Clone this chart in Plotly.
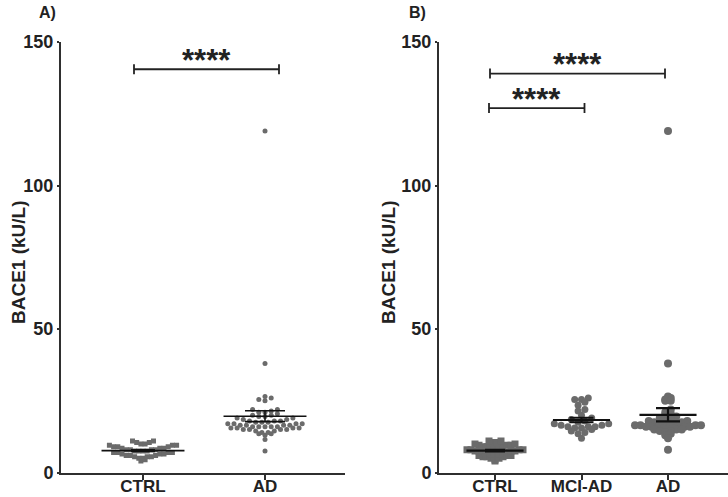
import math
import numpy as np
import plotly.graph_objects as go

# ---------------- data ----------------
cats_a = ["CTRL", "AD"]
cats_b = ["CTRL", "MCI-AD", "AD"]

ctrl = [4.0, 4.5, 5.0, 5.0, 5.5, 5.5, 5.5, 6.0, 6.0, 6.0, 6.5, 6.5, 6.5, 7.0, 7.0,
        7.0, 7.0, 7.5, 7.5, 7.5, 7.5, 8.0, 8.0, 8.0, 8.0, 8.5, 8.5, 8.5, 9.0, 9.0,
        9.0, 9.5, 9.5, 9.5, 10.0, 10.0, 10.5, 10.5, 11.0, 11.0]

ad_all = [119.0, 38.0, 26.5, 26.0, 25.5, 25.0, 22.0, 22.0,
          21.5, 21.0, 21.0, 20.5, 20.0, 20.0, 19.5, 19.5, 19.0, 19.0, 18.5, 18.5,
          18.0, 18.0, 18.0, 17.5, 17.5, 17.5, 17.0, 17.0, 17.0, 17.0, 16.5, 16.5,
          16.5, 16.5, 16.0, 16.0, 16.0, 16.0, 16.0, 15.5, 15.5, 15.5, 15.5, 15.0,
          15.0, 15.0, 15.0, 14.5, 14.5, 14.0, 14.0, 13.5, 13.5, 13.0, 11.5, 7.5]

mci_ad = [26.0, 25.5, 25.5, 24.5, 23.5, 22.0, 21.5, 20.0, 19.0, 18.5, 18.0,
          17.5, 17.0, 17.0, 16.5, 16.5, 16.0, 16.0, 16.0, 15.5, 15.5, 15.0,
          14.5, 14.0, 13.5, 12.0]

ad = [119.0, 38.0, 25.0, 26.5, 26.0, 25.5, 25.0, 22.0,
      21.0, 20.5, 20.0, 19.5, 19.0, 18.5, 18.5, 18.0, 18.0, 17.5, 17.5,
      17.5, 17.0, 17.0, 17.0, 16.5, 16.5, 16.5, 16.5, 16.0, 16.0, 16.0, 16.0,
      16.0, 15.5, 15.5, 15.5, 15.5, 15.0, 15.0, 15.0, 14.5, 14.5, 14.0, 13.5,
      13.0, 12.0, 8.0]

sig_a = [(0, 1, 140.5)]
sig_b = [(0, 2, 139.0), (0, 1, 127.0)]

# ---------------- geometry (pixel frame of the window) ----------------
W, H = 728, 497


def fx(px):   # pixel x -> paper fraction
    return px / W


def fy(py):   # pixel y -> paper fraction
    return 1 - py / H


Y0_PX, Y150_PX = 472.6, 42.0
PX_PER_UNIT_Y = (Y0_PX - Y150_PX) / 150.0

A_LEFT, A_RIGHT = 61, 345
B_LEFT, B_RIGHT = 439, 728
A_PPU_X = 122.0
B_PPU_X = 86.5
A_RANGE = [-(143 - A_LEFT) / A_PPU_X, -(143 - A_LEFT) / A_PPU_X + (A_RIGHT - A_LEFT) / A_PPU_X]
B_RANGE = [-(495 - B_LEFT) / B_PPU_X, -(495 - B_LEFT) / B_PPU_X + (B_RIGHT - B_LEFT) / B_PPU_X]

GRAY = "#6b6b6b"
AXC = "#2f2f2f"
TXT = "#222222"
FONT = "Liberation Sans, Arial, sans-serif"


def rows_layout(vals, rowh, dx):
    """Prism-like row binning: offsets (px) of points within value rows."""
    rows = {}
    for i, v in enumerate(vals):
        r = int(math.floor(v * PX_PER_UNIT_Y / rowh))
        rows.setdefault(r, []).append(i)
    offs = [0.0] * len(vals)
    for r, idx in rows.items():
        idx = sorted(idx, key=lambda i: vals[i])
        n = len(idx)
        pos = sorted([(k - (n - 1) / 2.0) * dx for k in range(n)], key=lambda p: (abs(p), p))
        for j, i in enumerate(idx):
            offs[i] = pos[j]
    return offs


def sem(v):
    a = np.array(v)
    return a.std(ddof=1) / math.sqrt(len(a))


fig = go.Figure()


def add_group(vals, pos, xa, ya, ppu, rowh, dx, size, symbol, meanw, capw, lw):
    offs = rows_layout(vals, rowh, dx)
    xs = [pos + o / ppu for o in offs]
    fig.add_trace(go.Scatter(x=xs, y=vals, mode="markers", xaxis=xa, yaxis=ya,
                             marker=dict(color=GRAY, size=size, symbol=symbol,
                                         line=dict(width=0)),
                             showlegend=False, hoverinfo="y"))
    m = float(np.mean(vals))
    fig.add_trace(go.Scatter(x=[pos - meanw, pos + meanw], y=[m, m], mode="lines",
                             xaxis=xa, yaxis=ya, line=dict(color="#111", width=lw),
                             showlegend=False, hoverinfo="skip"))
    fig.add_trace(go.Scatter(x=[pos], y=[m], mode="markers", xaxis=xa, yaxis=ya,
                             marker=dict(size=1, color="rgba(0,0,0,0)"),
                             error_y=dict(type="constant", value=sem(vals),
                                          color="#111", thickness=lw, width=capw),
                             showlegend=False, hoverinfo="skip"))


# panel A
add_group(ctrl, 0, "x", "y", A_PPU_X, 7.0, 4.2, 5, "square", 0.34, 12, 1.6)
add_group(ad_all, 1, "x", "y", A_PPU_X, 5.0, 6.2, 5, "circle", 0.34, 20, 1.6)
# panel B
add_group(ctrl, 0, "x2", "y2", B_PPU_X, 6.0, 4.0, 7, "square", 0.33, 10, 2.2)
add_group(mci_ad, 1, "x2", "y2", B_PPU_X, 5.5, 6.8, 7, "circle", 0.33, 12, 2.2)
add_group(ad, 2, "x2", "y2", B_PPU_X, 4.0, 5.5, 8, "circle", 0.33, 12, 2.2)

# significance bars
shapes = []
annotations = []
sig_offsets_a = {(0, 1): (-9, 14)}
sig_offsets_b = {(0, 2): (-5, -3), (0, 1): (-6, 3)}


def add_sig(pairs, xref, yref, ppu, offmap):
    cap = 5 / PX_PER_UNIT_Y
    for (a, b, y) in pairs:
        o0, o1 = offmap[(a, b)]
        x0 = a + o0 / ppu
        x1 = b + o1 / ppu
        for seg in [(x0, y, x1, y), (x0, y - cap, x0, y + cap), (x1, y - cap, x1, y + cap)]:
            shapes.append(dict(type="line", xref=xref, yref=yref, x0=seg[0], y0=seg[1],
                               x1=seg[2], y1=seg[3], line=dict(color=TXT, width=1.8)))
        annotations.append(dict(x=(x0 + x1) / 2, y=y + 3.0, xref=xref, yref=yref,
                                text="****", showarrow=False, yanchor="middle",
                                font=dict(family=FONT, size=31, color=TXT, weight="bold")))


add_sig(sig_a, "x", "y", A_PPU_X, sig_offsets_a)
add_sig(sig_b, "x2", "y2", B_PPU_X, sig_offsets_b)

for txt, xp in [("A)", 47), ("B)", 418)]:
    annotations.append(dict(x=fx(xp), y=fy(12), xref="paper", yref="paper", text=txt,
                            showarrow=False, xanchor="center", yanchor="middle",
                            font=dict(family=FONT, size=16, color=TXT, weight="bold")))

for xp in [18, 388]:
    annotations.append(dict(x=fx(xp), y=fy(262), xref="paper", yref="paper",
                            text="BACE1 (kU/L)", textangle=-90, showarrow=False,
                            xanchor="center", yanchor="middle",
                            font=dict(family=FONT, size=19, color=TXT, weight="bold")))

ydom = [fy(Y0_PX), fy(Y150_PX)]
axis_common = dict(showline=True, linewidth=2, linecolor=AXC, showgrid=False, zeroline=False,
                   automargin=False,
                   ticks="outside", tickcolor=AXC, ticklen=5, tickwidth=1.5,
                   tickfont=dict(family=FONT, size=18, color=TXT, weight="bold"))
yax = dict(axis_common, range=[0, 150], tickvals=[0, 50, 100, 150], domain=ydom,
           ticklen=2)
xfont = dict(family=FONT, size=17, color=TXT, weight="bold")

fig.update_layout(
    width=W, height=H, margin=dict(l=0, r=0, t=0, b=0),
    paper_bgcolor="white", plot_bgcolor="white",
    xaxis=dict(axis_common, domain=[fx(A_LEFT), fx(A_RIGHT)], range=A_RANGE,
               tickvals=[0, 1], ticktext=cats_a, anchor="y", ticklabelstandoff=-8,
               tickfont=xfont),
    yaxis=dict(yax, anchor="x"),
    xaxis2=dict(axis_common, domain=[fx(B_LEFT), fx(B_RIGHT)], range=B_RANGE,
                tickvals=[0, 1, 2], ticktext=cats_b, anchor="y2", ticklabelstandoff=-8,
                tickfont=xfont),
    yaxis2=dict(yax, anchor="x2"),
    shapes=shapes, annotations=annotations,
)

# remove the default page margin so the figure fills the window exactly
fig.write_html("out.html", config={"displayModeBar": False},
               post_script="document.body.style.margin='0px';document.body.style.overflow='hidden';")
